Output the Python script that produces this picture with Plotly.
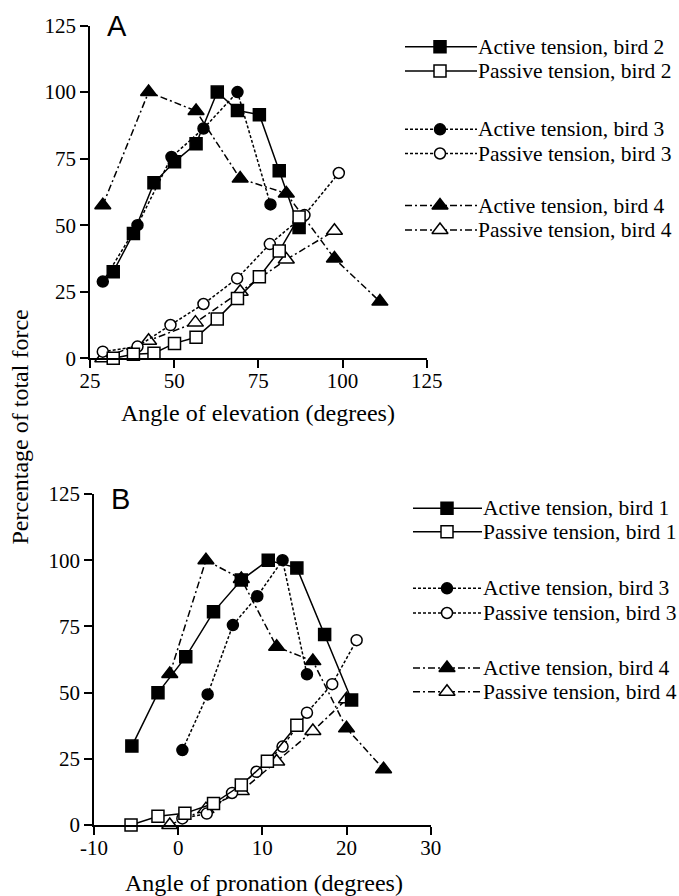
import plotly.graph_objects as go

# ---------------- Data: Panel A (angle of elevation) ----------------
a_b2_x = [31.9, 37.9, 44.0, 50.1, 56.5, 62.8, 68.8, 75.3, 81.2, 87.1]
a_b2_active = [32.5, 46.9, 65.9, 73.8, 80.6, 100.0, 93.1, 91.5, 70.4, 49.1]
a_b2_passive = [0.0, 1.5, 1.9, 5.6, 7.9, 14.8, 22.5, 30.6, 40.3, 53.1]

a_b3_active_x = [28.8, 39.1, 49.2, 58.7, 68.8, 78.6]
a_b3_active = [28.8, 50.0, 75.6, 86.3, 100.0, 57.8]
a_b3_passive_x = [28.8, 39.1, 48.9, 58.7, 68.7, 78.4, 88.7, 98.9]
a_b3_passive = [2.5, 4.4, 12.5, 20.4, 30.0, 42.9, 53.8, 69.6]

a_b4_active_x = [28.8, 42.4, 56.5, 69.6, 83.3, 97.6, 111.1]
a_b4_active = [57.5, 100.0, 92.9, 67.5, 61.9, 37.5, 21.3]
a_b4_passive_x = [28.8, 42.4, 56.3, 69.6, 83.3, 97.6]
a_b4_passive = [0.0, 6.6, 13.4, 25.0, 37.1, 47.9]

# ---------------- Data: Panel B (angle of pronation) ----------------
b_b1_active_x = [-5.5, -2.4, 0.9, 4.2, 7.5, 10.7, 14.1, 17.4, 20.6]
b_b1_active = [29.8, 49.9, 63.5, 80.5, 92.5, 100.0, 97.1, 71.9, 47.2]
b_b1_passive_x = [-5.6, -2.4, 0.8, 4.2, 7.5, 10.6, 14.1]
b_b1_passive = [0.0, 3.3, 4.4, 8.1, 15.1, 24.1, 37.7]

b_b3_active_x = [0.5, 3.5, 6.5, 9.4, 12.4, 15.3]
b_b3_active = [28.3, 49.3, 75.5, 86.4, 100.0, 56.9]
b_b3_passive_x = [0.5, 3.4, 6.4, 9.3, 12.4, 15.3, 18.3, 21.2]
b_b3_passive = [2.5, 4.3, 12.1, 20.1, 29.6, 42.4, 53.2, 69.8]

b_b4_active_x = [-1.0, 3.3, 7.5, 11.7, 16.0, 20.0, 24.4]
b_b4_active = [57.0, 100.0, 92.9, 67.3, 61.9, 36.5, 21.1]
b_b4_passive_x = [-1.0, 3.3, 7.5, 11.7, 16.0, 20.0]
b_b4_passive = [0.0, 6.0, 12.8, 24.0, 35.5, 47.5]

# ---------------- Ticks and labels ----------------
a_xticks = [25, 50, 75, 100, 125]
a_xticktext = ["25", "50", "75", "100", "125"]
b_xticks = [-10, 0, 10, 20, 30]
b_xticktext = ["-10", "0", "10", "20", "30"]
yticks = [0, 25, 50, 75, 100, 125]
yticktext = ["0", "25", "50", "75", "100", "125"]

a_legend_labels = ["Active tension, bird 2", "Passive tension, bird 2",
                   "Active tension, bird 3", "Passive tension, bird 3",
                   "Active tension, bird 4", "Passive tension, bird 4"]
b_legend_labels = ["Active tension, bird 1", "Passive tension, bird 1",
                   "Active tension, bird 3", "Passive tension, bird 3",
                   "Active tension, bird 4", "Passive tension, bird 4"]

# ---------------- Layout helpers ----------------
W, H = 679, 896
def fx(p):
    return p / W
def fy(p):
    return 1 - p / H

SERIF = "Liberation Serif, Times New Roman, serif"
SANS = "Liberation Sans, Arial, sans-serif"

SOLID = "solid"
DOT = "3px,2px"
DASHDOT = "7px,3px,2px,3px"
SIZES = {"square": 12, "circle": 11, "triangle-up": 14}

# style per legend row: (symbol, filled, dash)
row_styles = [("square", True, SOLID), ("square", False, SOLID),
              ("circle", True, DOT), ("circle", False, DOT),
              ("triangle-up", True, DASHDOT), ("triangle-up", False, DASHDOT)]

fig = go.Figure()

def add_series(x, y, style, xa, ya, name):
    symbol, filled, dash = style
    fig.add_trace(go.Scatter(
        x=x, y=y, mode="lines+markers", name=name,
        line=dict(color="black", width=1.5, dash=dash),
        marker=dict(symbol=symbol, size=SIZES[symbol],
                    color="black" if filled else "white",
                    line=dict(color="black", width=1.5)),
        xaxis=xa, yaxis=ya, showlegend=False, cliponaxis=False))

# Panel A
add_series(a_b4_active_x, a_b4_active, row_styles[4], "x", "y", a_legend_labels[4])
add_series(a_b4_passive_x, a_b4_passive, row_styles[5], "x", "y", a_legend_labels[5])
add_series(a_b3_active_x, a_b3_active, row_styles[2], "x", "y", a_legend_labels[2])
add_series(a_b3_passive_x, a_b3_passive, row_styles[3], "x", "y", a_legend_labels[3])
add_series(a_b2_x, a_b2_active, row_styles[0], "x", "y", a_legend_labels[0])
add_series(a_b2_x, a_b2_passive, row_styles[1], "x", "y", a_legend_labels[1])

# Panel B
add_series(b_b4_active_x, b_b4_active, row_styles[4], "x2", "y2", b_legend_labels[4])
add_series(b_b4_passive_x, b_b4_passive, row_styles[5], "x2", "y2", b_legend_labels[5])
add_series(b_b3_active_x, b_b3_active, row_styles[2], "x2", "y2", b_legend_labels[2])
add_series(b_b3_passive_x, b_b3_passive, row_styles[3], "x2", "y2", b_legend_labels[3])
add_series(b_b1_active_x, b_b1_active, row_styles[0], "x2", "y2", b_legend_labels[0])
add_series(b_b1_passive_x, b_b1_passive, row_styles[1], "x2", "y2", b_legend_labels[1])

# ---------------- Hand-built legends (overlay axis in pixel units) ----------------
legend_specs = [
    # (labels, row pixel y, line x start, marker x, line x end, text x)
    (a_legend_labels, [46.7, 71.0, 129.3, 153.5, 205.5, 230.0], 405, 440, 477, 476),
    (b_legend_labels, [508.3, 531.7, 588.3, 613.0, 668.0, 691.7], 413, 447, 482, 481),
]
annotations = []
for labels, rows, x0, xm, x1, xt in legend_specs:
    for label, ry, style in zip(labels, rows, row_styles):
        symbol, filled, dash = style
        fig.add_trace(go.Scatter(
            x=[x0, x1], y=[ry, ry], mode="lines",
            line=dict(color="black", width=1.5, dash=dash),
            xaxis="x3", yaxis="y3", showlegend=False, hoverinfo="skip"))
        fig.add_trace(go.Scatter(
            x=[xm], y=[ry], mode="markers",
            marker=dict(symbol=symbol, size=SIZES[symbol],
                        color="black" if filled else "white",
                        line=dict(color="black", width=1.5)),
            xaxis="x3", yaxis="y3", showlegend=False, hoverinfo="skip"))
        annotations.append(dict(
            text=label, x=fx(xt), y=fy(ry), xref="paper", yref="paper",
            xanchor="left", yanchor="middle", showarrow=False,
            font=dict(family=SERIF, size=21.5, color="black")))

# Titles and panel letters
annotations += [
    dict(text="Angle of elevation (degrees)", x=fx(258), y=fy(413),
         xref="paper", yref="paper", xanchor="center", yanchor="middle",
         showarrow=False, font=dict(family=SERIF, size=24, color="black")),
    dict(text="Angle of pronation (degrees)", x=fx(264), y=fy(883),
         xref="paper", yref="paper", xanchor="center", yanchor="middle",
         showarrow=False, font=dict(family=SERIF, size=24, color="black")),
    dict(text="Percentage of total force", x=fx(19.5), y=fy(427),
         xref="paper", yref="paper", xanchor="center", yanchor="middle",
         textangle=-90, showarrow=False,
         font=dict(family=SERIF, size=24, color="black")),
    dict(text="A", x=fx(117), y=fy(26), xref="paper", yref="paper",
         xanchor="center", yanchor="middle", showarrow=False,
         font=dict(family=SANS, size=29, color="black")),
    dict(text="B", x=fx(120), y=fy(499), xref="paper", yref="paper",
         xanchor="center", yanchor="middle", showarrow=False,
         font=dict(family=SANS, size=29, color="black")),
]

axis_common = dict(showline=True, linecolor="black", linewidth=1.5,
                   ticks="outside", ticklen=8, tickwidth=1.5, tickcolor="black",
                   showgrid=False, zeroline=False, fixedrange=True, automargin=False,
                   tickfont=dict(family=SERIF, size=21, color="black"))

fig.update_layout(
    width=W, height=H, autosize=False,
    margin=dict(l=0, r=0, t=0, b=0, pad=0, autoexpand=False),
    paper_bgcolor="white", plot_bgcolor="rgba(0,0,0,0)",
    showlegend=False,
    xaxis=dict(domain=[fx(90), fx(426.7)], range=[25, 125], tickmode="array",
               tickvals=a_xticks, ticktext=a_xticktext, anchor="y",
               ticklabelstandoff=-5, **axis_common),
    yaxis=dict(domain=[fy(358.3), fy(25.5)], range=[0, 125], tickmode="array",
               tickvals=yticks, ticktext=yticktext, anchor="x", **axis_common),
    xaxis2=dict(domain=[fx(94), fx(430.7)], range=[-10, 30], tickmode="array",
                tickvals=b_xticks, ticktext=b_xticktext, anchor="y2",
                ticklabelstandoff=-5, **axis_common),
    yaxis2=dict(domain=[fy(825), fy(494)], range=[0, 125], tickmode="array",
                tickvals=yticks, ticktext=yticktext, anchor="x2", **axis_common),
    xaxis3=dict(domain=[0, 1], range=[0, W], visible=False, anchor="y3",
                fixedrange=True, automargin=False),
    yaxis3=dict(domain=[0, 1], range=[H, 0], visible=False, anchor="x3",
                fixedrange=True, automargin=False),
    annotations=annotations,
)

fig.write_html("out.html", config={"displayModeBar": False},
               post_script="document.body.style.margin='0';document.body.style.overflow='hidden';")
